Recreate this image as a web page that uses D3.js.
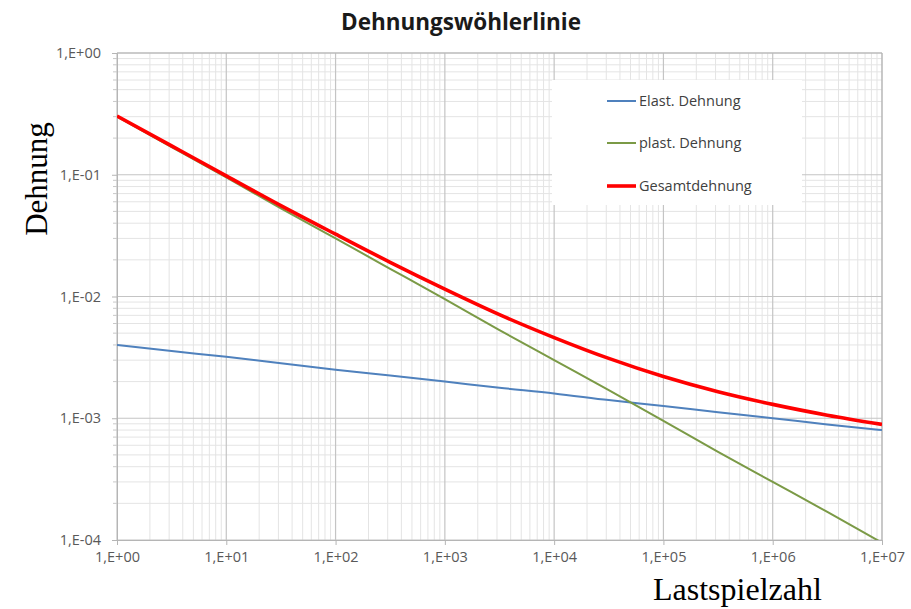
<!DOCTYPE html>
<html>
<head>
<meta charset="utf-8">
<script src="https://cdn.jsdelivr.net/npm/d3@7"></script>
<style>
  html, body { margin: 0; padding: 0; background: #fff; }
  svg { display: block; }
</style>
</head>
<body>
<svg id="chart" width="911" height="609"></svg>
<script>
// Load cycles (Lastspielzahl), half-decade steps
const cycles = [1, 3.16, 10, 31.6, 100, 316, 1e3, 3.16e3, 1e4, 3.16e4, 1e5, 3.16e5, 1e6, 3.16e6, 1e7];
// Elastic strain amplitude
const elastic = [4.0e-3, 3.56e-3, 3.2e-3, 2.83e-3, 2.5e-3, 2.24e-3, 2.0e-3, 1.78e-3, 1.6e-3, 1.41e-3, 1.26e-3, 1.12e-3, 1.0e-3, 8.9e-4, 8.0e-4];
// Plastic strain amplitude
const plastic = [0.30, 0.169, 0.095, 0.053, 0.030, 0.0169, 0.0095, 0.0053, 0.0030, 0.0017, 9.5e-4, 5.3e-4, 3.0e-4, 1.7e-4, 9.5e-5];
// Total strain amplitude
const total = [0.304, 0.1726, 0.098, 0.0558, 0.0325, 0.0191, 0.0115, 0.0071, 0.0046, 0.0031, 0.0022, 0.00165, 0.0013, 0.00106, 0.00089];

const xTicks = [1, 10, 100, 1e3, 1e4, 1e5, 1e6, 1e7];
const xTickLabels = ["1,E+00", "1,E+01", "1,E+02", "1,E+03", "1,E+04", "1,E+05", "1,E+06", "1,E+07"];
const yTicks = [1, 0.1, 0.01, 0.001, 0.0001];
const yTickLabels = ["1,E+00", "1,E-01", "1,E-02", "1,E-03", "1,E-04"];

const seriesNames = ["Elast. Dehnung", "plast. Dehnung", "Gesamtdehnung"];
const seriesValues = [elastic, plastic, total];
const seriesColors = ["#4f81bd", "#7b9a46", "#ff0000"];
const seriesWidths = [2, 2, 3.6];

const svg = d3.select("#chart");
const plotLeft = 117, plotRight = 882, plotTop = 53, plotBottom = 540;

const x = d3.scaleLog().domain([1, 1e7]).range([plotLeft, plotRight]);
const y = d3.scaleLog().domain([1e-4, 1]).range([plotBottom, plotTop]);

const labelFont = "'Open Sans', 'Noto Sans', sans-serif";
const labelSize = 14.5;

// minor grid positions (2..9 within each decade)
const minorX = [];
for (let d = 0; d < 7; d++) for (let k = 2; k <= 9; k++) minorX.push(k * Math.pow(10, d));
const minorY = [];
for (let d = -4; d < 0; d++) for (let k = 2; k <= 9; k++) minorY.push(k * Math.pow(10, d));

const grid = svg.append("g");
grid.selectAll("line.mx").data(minorX).join("line")
  .attr("x1", d => x(d)).attr("x2", d => x(d))
  .attr("y1", plotTop).attr("y2", plotBottom)
  .attr("stroke", "#e4e4e4").attr("stroke-width", 1);
grid.selectAll("line.my").data(minorY).join("line")
  .attr("x1", plotLeft).attr("x2", plotRight)
  .attr("y1", d => y(d)).attr("y2", d => y(d))
  .attr("stroke", "#e4e4e4").attr("stroke-width", 1);
grid.selectAll("line.Mx").data(xTicks).join("line")
  .attr("x1", d => x(d)).attr("x2", d => x(d))
  .attr("y1", plotTop).attr("y2", plotBottom)
  .attr("stroke", "#c4c4c4").attr("stroke-width", 1.2);
grid.selectAll("line.My").data(yTicks).join("line")
  .attr("x1", plotLeft).attr("x2", plotRight)
  .attr("y1", d => y(d)).attr("y2", d => y(d))
  .attr("stroke", "#c4c4c4").attr("stroke-width", 1.2);

// legend backdrop hides the grid behind it
svg.append("rect")
  .attr("x", 552).attr("y", 80).attr("width", 250).attr("height", 125)
  .attr("fill", "#fff");

// axes
const xAxis = d3.axisBottom(x).tickValues(xTicks)
  .tickFormat((d, i) => xTickLabels[i]).tickSize(5).tickPadding(7);
const gx = svg.append("g").attr("transform", `translate(0,${plotBottom})`).call(xAxis);
gx.select(".domain").attr("stroke", "#b5b5b5");
gx.selectAll(".tick line").attr("stroke", "#b5b5b5");
gx.selectAll(".tick text").attr("font-family", labelFont).attr("font-size", labelSize)
  .attr("fill", "#595959");

const yAxis = d3.axisLeft(y).tickValues(yTicks)
  .tickFormat((d, i) => yTickLabels[i]).tickSize(5).tickPadding(11);
const gy = svg.append("g").attr("transform", `translate(${plotLeft},0)`).call(yAxis);
gy.select(".domain").attr("stroke", "#b5b5b5");
gy.selectAll(".tick line").attr("stroke", "#b5b5b5");
gy.selectAll(".tick text").attr("font-family", labelFont).attr("font-size", labelSize)
  .attr("fill", "#595959");

// minor tick marks on the y axis
svg.append("g").selectAll("line").data(minorY).join("line")
  .attr("x1", plotLeft - 4).attr("x2", plotLeft)
  .attr("y1", d => y(d)).attr("y2", d => y(d))
  .attr("stroke", "#c8c8c8");

// top and right frame
svg.append("line").attr("x1", plotLeft).attr("x2", plotRight).attr("y1", plotTop).attr("y2", plotTop)
  .attr("stroke", "#b5b5b5");
svg.append("line").attr("x1", plotRight).attr("x2", plotRight).attr("y1", plotTop).attr("y2", plotBottom)
  .attr("stroke", "#b5b5b5");

// series curves
svg.append("clipPath").attr("id", "plot-clip")
  .append("rect").attr("x", plotLeft).attr("y", plotTop)
  .attr("width", plotRight - plotLeft).attr("height", plotBottom - plotTop);

const line = d3.line()
  .x(d => x(d[0])).y(d => y(d[1]))
  .curve(d3.curveMonotoneX);

const plot = svg.append("g").attr("clip-path", "url(#plot-clip)");
seriesValues.forEach((vals, i) => {
  plot.append("path")
    .datum(cycles.map((c, j) => [c, vals[j]]))
    .attr("d", line)
    .attr("fill", "none")
    .attr("stroke", seriesColors[i])
    .attr("stroke-width", seriesWidths[i])
    .attr("stroke-linejoin", "round");
});

// legend
const legend = svg.append("g");
const legendY = [101, 143, 186];
seriesNames.forEach((name, i) => {
  legend.append("line")
    .attr("x1", 607).attr("x2", 636)
    .attr("y1", legendY[i]).attr("y2", legendY[i])
    .attr("stroke", seriesColors[i]).attr("stroke-width", seriesWidths[i]);
  legend.append("text")
    .attr("x", 639).attr("y", legendY[i]).attr("dy", "0.35em")
    .attr("font-family", labelFont).attr("font-size", labelSize)
    .attr("fill", "#404040")
    .text(name);
});

// title and axis titles
svg.append("text")
  .attr("x", 461).attr("y", 30).attr("text-anchor", "middle")
  .attr("font-family", labelFont).attr("font-weight", "bold").attr("font-size", 22.5)
  .attr("fill", "#1a1a1a")
  .text("Dehnungswöhlerlinie");

svg.append("text")
  .attr("transform", "translate(47,179) rotate(-90)")
  .attr("text-anchor", "middle")
  .attr("font-family", "'Liberation Serif', 'DejaVu Serif', serif").attr("font-size", 31)
  .attr("fill", "#000")
  .text("Dehnung");

svg.append("text")
  .attr("x", 653).attr("y", 600)
  .attr("font-family", "'Liberation Serif', 'DejaVu Serif', serif").attr("font-size", 32)
  .attr("fill", "#000")
  .text("Lastspielzahl");
</script>
</body>
</html>
